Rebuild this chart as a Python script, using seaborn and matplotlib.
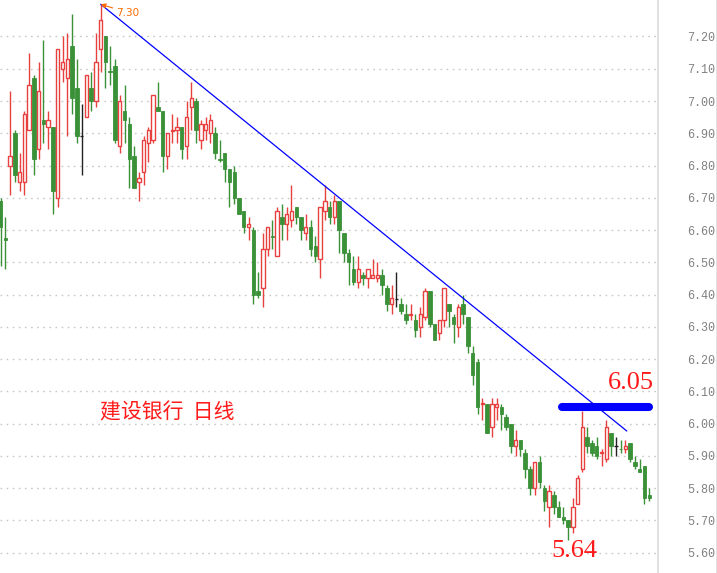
import numpy as np
import pandas as pd
import matplotlib
matplotlib.use("Agg")
import matplotlib.pyplot as plt
from matplotlib.lines import Line2D
import seaborn as sns

# ---------------- data (daily OHLC) ----------------
opens = [6.69, 6.575, 6.80, 6.90, 6.75, 6.75, 6.91, 7.07, 6.85, 6.94,
         6.92, 6.92, 6.70, 7.10, 7.07, 7.17, 7.04, 6.89, 6.95, 7.04,
         7.00, 7.16, 7.20, 7.093, 7.11, 6.86, 6.97, 6.93, 6.83, 6.75,
         6.78, 6.87, 6.88, 6.98, 6.97, 6.83, 6.906, 6.91, 6.92, 6.86,
         6.98, 7.00, 6.88, 6.91, 6.90, 6.90, 6.821, 6.84, 6.79, 6.78,
         6.70, 6.66, 6.61, 6.60, 6.41, 6.42, 6.54, 6.58, 6.52, 6.64,
         6.62, 6.63, 6.67, 6.64, 6.59, 6.61, 6.55, 6.51, 6.66, 6.67,
         6.64, 6.69, 6.59, 6.53, 6.48, 6.44, 6.46, 6.45, 6.45, 6.45,
         6.46, 6.42, 6.37, 6.387, 6.37, 6.34, 6.338, 6.32, 6.30, 6.33,
         6.41, 6.31, 6.28, 6.32, 6.37, 6.33, 6.30, 6.37, 6.33, 6.22,
         6.19, 6.060, 6.06, 5.99, 6.05, 6.05, 6.02, 6.00, 5.93, 5.95,
         5.91, 5.86, 5.80, 5.88, 5.80, 5.74, 5.78, 5.74, 5.71, 5.70,
         5.68, 5.75, 5.86, 5.96, 5.94, 5.93, 5.910, 5.89, 5.97, 5.93,
         5.922, 5.92, 5.94, 5.88, 5.86, 5.87, 5.78]
highs = [6.70, 6.64, 7.03, 6.91, 6.84, 6.97, 7.15, 7.08, 7.12, 7.19,
         6.97, 6.92, 7.16, 7.20, 7.21, 7.27, 7.13, 6.99, 7.08, 7.09,
         7.21, 7.30, 7.20, 7.17, 7.13, 7.02, 7.05, 6.95, 6.86, 6.78,
         6.89, 6.92, 7.02, 7.06, 6.97, 6.90, 6.96, 6.95, 6.92, 7.00,
         7.06, 7.01, 6.94, 6.95, 6.96, 6.92, 6.88, 6.84, 6.79, 6.80,
         6.70, 6.66, 6.64, 6.61, 6.47, 6.59, 6.61, 6.63, 6.67, 6.68,
         6.67, 6.74, 6.67, 6.64, 6.65, 6.63, 6.58, 6.67, 6.74, 6.69,
         6.71, 6.69, 6.59, 6.54, 6.52, 6.52, 6.47, 6.48, 6.51, 6.50,
         6.48, 6.43, 6.43, 6.47, 6.39, 6.37, 6.37, 6.34, 6.36, 6.42,
         6.41, 6.31, 6.32, 6.42, 6.37, 6.34, 6.37, 6.40, 6.33, 6.24,
         6.20, 6.08, 6.06, 6.08, 6.08, 6.06, 6.03, 6.00, 5.98, 5.95,
         5.92, 5.87, 5.88, 5.90, 5.81, 5.81, 5.79, 5.76, 5.74, 5.70,
         5.77, 5.84, 6.04, 5.99, 5.95, 5.96, 5.92, 6.01, 5.97, 5.96,
         5.95, 5.95, 5.94, 5.90, 5.89, 5.87, 5.80]
lows = [6.49, 6.48, 6.71, 6.75, 6.72, 6.71, 6.91, 6.77, 6.82, 6.87,
        6.85, 6.65, 6.67, 7.06, 6.89, 6.96, 6.87, 6.77, 6.95, 6.97,
        6.98, 7.09, 7.04, 7.05, 6.87, 6.84, 6.87, 6.73, 6.73, 6.69,
        6.74, 6.81, 6.87, 6.97, 6.78, 6.79, 6.87, 6.87, 6.82, 6.82,
        6.91, 6.87, 6.85, 6.88, 6.87, 6.82, 6.81, 6.75, 6.67, 6.68,
        6.65, 6.59, 6.57, 6.37, 6.39, 6.36, 6.52, 6.54, 6.52, 6.57,
        6.57, 6.61, 6.62, 6.57, 6.57, 6.52, 6.50, 6.45, 6.63, 6.62,
        6.62, 6.53, 6.50, 6.43, 6.43, 6.42, 6.43, 6.42, 6.45, 6.44,
        6.40, 6.35, 6.34, 6.36, 6.34, 6.31, 6.32, 6.27, 6.27, 6.32,
        6.30, 6.26, 6.26, 6.30, 6.30, 6.25, 6.27, 6.31, 6.22, 6.12,
        6.03, 6.01, 5.97, 5.96, 6.01, 5.98, 5.98, 5.91, 5.90, 5.90,
        5.83, 5.78, 5.78, 5.80, 5.73, 5.68, 5.72, 5.71, 5.69, 5.64,
        5.66, 5.75, 5.85, 5.91, 5.90, 5.89, 5.87, 5.88, 5.90, 5.90,
        5.91, 5.91, 5.88, 5.86, 5.85, 5.75, 5.76]
closes = [6.61, 6.57, 6.83, 6.77, 6.78, 6.96, 7.05, 6.82, 7.03, 6.93,
          6.94, 6.72, 7.16, 7.12, 7.13, 7.01, 6.89, 6.89, 7.08, 7.00,
          7.12, 7.25, 7.12, 7.089, 6.88, 7.00, 6.94, 6.82, 6.73, 6.76,
          6.88, 6.91, 7.02, 6.97, 6.83, 6.90, 6.909, 6.92, 6.85, 6.95,
          7.01, 6.91, 6.93, 6.93, 6.94, 6.84, 6.817, 6.79, 6.75, 6.70,
          6.65, 6.61, 6.62, 6.40, 6.40, 6.54, 6.61, 6.578, 6.66, 6.62,
          6.65, 6.66, 6.64, 6.60, 6.61, 6.54, 6.52, 6.67, 6.69, 6.64,
          6.69, 6.60, 6.53, 6.50, 6.44, 6.48, 6.45, 6.48, 6.46, 6.46,
          6.43, 6.37, 6.39, 6.387, 6.35, 6.32, 6.339, 6.29, 6.34, 6.41,
          6.31, 6.26, 6.32, 6.42, 6.35, 6.31, 6.36, 6.34, 6.24, 6.15,
          6.05, 6.062, 5.97, 6.06, 6.06, 6.03, 5.99, 5.93, 5.95, 5.92,
          5.86, 5.80, 5.88, 5.82, 5.76, 5.79, 5.74, 5.71, 5.70, 5.68,
          5.74, 5.83, 5.99, 5.93, 5.91, 5.90, 5.912, 5.99, 5.93, 5.93,
          5.920, 5.93, 5.89, 5.87, 5.85, 5.77, 5.77]

price_ticks = [5.60, 5.70, 5.80, 5.90, 6.00, 6.10, 6.20, 6.30, 6.40,
               6.50, 6.60, 6.70, 6.80, 6.90, 7.00, 7.10, 7.20]
tick_labels = ["%.2f" % t for t in price_ticks]

trend_idx = [21, 131.3]
trend_price = [7.30, 5.977]
level_idx = [117.7, 136.0]
level_price = [6.05, 6.05]

title_text = "建设银行  日线"
high_text = "7.30"
level_text = "6.05"
low_text = "5.64"

# ---------------- styling ----------------
sns.set_theme(style="white")
plt.rcParams["font.family"] = ["Noto Sans CJK SC", "DejaVu Sans"]

RED = "#e8403f"
GREEN = "#3a9138"
BLACK = "#222222"

df = pd.DataFrame({"open": opens, "high": highs, "low": lows, "close": closes})
df["idx"] = np.arange(len(df))

fig = plt.figure(figsize=(7.17, 5.73), dpi=100)
ax = fig.add_axes([0, 0, 658 / 717, 1])
ax.set_facecolor("white")

# grid
for t in price_ticks:
    ax.axhline(t, color="#c8c8c8", lw=1.0, ls=(0, (1.2, 3.2)), zorder=0)

colors = []
for o, c in zip(df["open"], df["close"]):
    if c > o:
        colors.append(RED)
    elif c < o:
        colors.append(GREEN)
    else:
        colors.append(BLACK)
df["color"] = colors

# wicks
ax.vlines(df["idx"], df["low"], df["high"], colors=df["color"], lw=1.0, zorder=1)

# bodies
bw = 0.72
for _, r in df.iterrows():
    lo = min(r["open"], r["close"])
    h = abs(r["close"] - r["open"])
    if r["color"] == BLACK:
        ax.hlines(r["open"], r["idx"] - bw / 2, r["idx"] + bw / 2, colors=BLACK, lw=1.0, zorder=2)
        continue
    h = max(h, 0.0025)
    if r["color"] == RED:
        ax.bar(r["idx"], h, bottom=lo, width=bw, facecolor="white", edgecolor=RED,
               linewidth=1.0, zorder=2)
    else:
        ax.bar(r["idx"], h, bottom=lo, width=bw, facecolor=GREEN, edgecolor=GREEN,
               linewidth=0.6, zorder=2)

# trend line and level line
sns.lineplot(x=trend_idx, y=trend_price, ax=ax, color="#0000ff", lw=0.9, zorder=3)
ax.plot(level_idx, level_price, color="#0000ff", lw=5.8, solid_capstyle="round", zorder=4)

# annotations
ax.annotate(high_text, xy=(21, 7.30), xytext=(11, -6), textcoords="offset points",
            fontsize=7.5, color="#ff6a00", ha="left", va="center", family="DejaVu Sans",
            arrowprops=dict(arrowstyle="-|>", color="#ff6a00", lw=0.8, mutation_scale=7,
                            shrinkA=0, shrinkB=0))
ax.text(20.9, 6.036, title_text, fontsize=15, color="#ff1a1a", ha="left", va="center")
ax.text(132.1, 6.126, level_text, fontsize=19, color="#ff1a1a", ha="center", va="center",
        family="Liberation Serif")
ax.text(120.4, 5.605, low_text, fontsize=19, color="#ff1a1a", ha="center", va="center",
        family="Liberation Serif")

# axes
ax.set_xlim(-0.105, 137.84)
ax.set_ylim(5.5369, 7.3131)
ax.set_xticks([])
ax.yaxis.tick_right()
ax.set_yticks(price_ticks)
ax.set_yticklabels(tick_labels, family="Liberation Mono", fontsize=8.5, color="#808080")
ax.tick_params(axis="y", length=0, pad=21)
for s in ["top", "left", "bottom"]:
    ax.spines[s].set_visible(False)
ax.spines["right"].set_color("#dcdcdc")
ax.spines["right"].set_linewidth(1.2)

fig.add_artist(Line2D([716.5 / 717, 716.5 / 717], [0, 1], color="#dcdcdc", lw=1.2,
                      transform=fig.transFigure))

fig.savefig("out.png", dpi=100, facecolor="white")
